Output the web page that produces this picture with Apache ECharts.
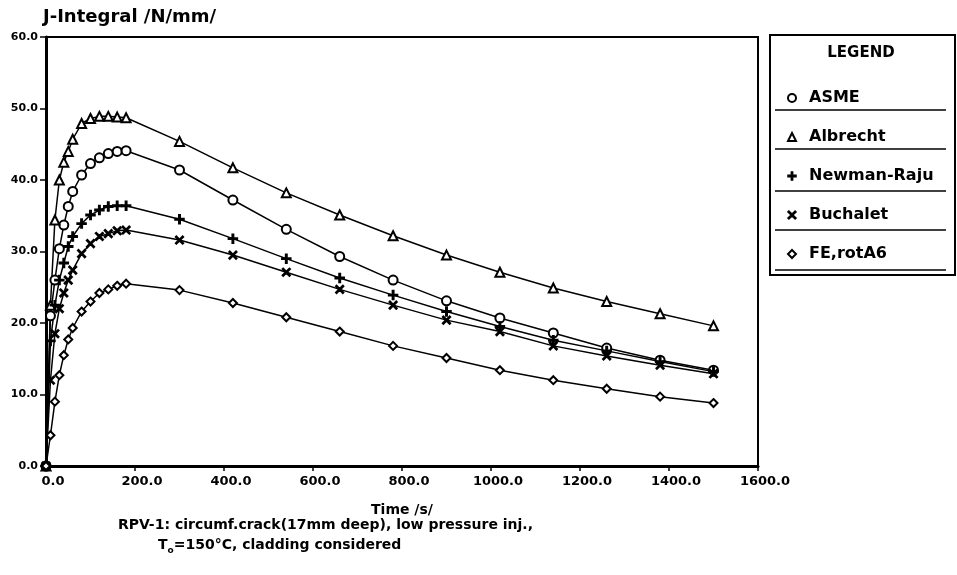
<!DOCTYPE html>
<html>
<head>
<meta charset="utf-8">
<title>J-Integral</title>
<script src="https://cdn.jsdelivr.net/npm/echarts@6/dist/echarts.min.js"></script>
<style>
  html, body { margin: 0; padding: 0; background: #fff; }
  #chart { width: 957px; height: 575px; }
</style>
</head>
<body>
<div id="chart"></div>
<script>
// time points /s/
const times = [0, 10, 20, 30, 40, 50, 60, 80, 100, 120, 140, 160, 180,
  300, 420, 540, 660, 780, 900, 1020, 1140, 1260, 1380, 1500];

// J-integral values /N/mm/
const asme = [0, 21.0, 26.0, 30.4, 33.7, 36.3, 38.4, 40.7, 42.3, 43.1, 43.7, 44.0, 44.1,
  41.4, 37.2, 33.1, 29.3, 26.0, 23.1, 20.7, 18.6, 16.5, 14.8, 13.4];
const albrecht = [0, 22.5, 34.4, 40.0, 42.5, 44.0, 45.7, 47.9, 48.6, 48.9, 48.9, 48.8, 48.7,
  45.4, 41.7, 38.2, 35.1, 32.2, 29.5, 27.1, 24.9, 23.0, 21.3, 19.6];
const newmanRaju = [0, 17.5, 22.5, 26.0, 28.4, 30.7, 32.1, 33.9, 35.1, 35.8, 36.3, 36.4, 36.4,
  34.5, 31.8, 29.0, 26.3, 23.9, 21.6, 19.5, 17.6, 16.1, 14.6, 13.2];
const buchalet = [0, 12.0, 18.5, 22.0, 24.2, 26.0, 27.4, 29.7, 31.1, 32.1, 32.5, 32.9, 33.0,
  31.6, 29.5, 27.1, 24.7, 22.5, 20.4, 18.8, 16.8, 15.4, 14.1, 12.9];
const feRotA6 = [0, 4.3, 9.0, 12.7, 15.5, 17.7, 19.3, 21.6, 23.0, 24.2, 24.7, 25.2, 25.5,
  24.6, 22.8, 20.8, 18.8, 16.8, 15.1, 13.4, 12.0, 10.8, 9.7, 8.8];

const xTicks = [0, 200, 400, 600, 800, 1000, 1200, 1400, 1600];
const yTicks = [0, 10, 20, 30, 40, 50, 60];

const FONT = 'DejaVu Sans';
const plusPath = 'path://M4.2,0h1.6v4.2h4.2v1.6h-4.2v4.2h-1.6v-4.2h-4.2v-1.6h4.2z';
const crossPath = 'path://M0,1.1L1.1,0L5,3.9L8.9,0L10,1.1L6.1,5L10,8.9L8.9,10L5,6.1L1.1,10L0,8.9L3.9,5Z';

const seriesDefs = [
  { name: 'ASME', data: asme, symbol: 'emptyCircle', size: 9 },
  { name: 'Albrecht', data: albrecht, symbol: 'emptyTriangle', size: 9 },
  { name: 'Newman-Raju', data: newmanRaju, symbol: plusPath, size: 9 },
  { name: 'Buchalet', data: buchalet, symbol: crossPath, size: 8 },
  { name: 'FE,rotA6', data: feRotA6, symbol: 'emptyDiamond', size: 8 }
];

function pairs(ys) {
  return times.map((t, i) => [t, ys[i]]);
}

const chart = echarts.init(document.getElementById('chart'));

const option = {
  animation: false,
  backgroundColor: '#fff',
  grid: {
    left: 46, top: 37, right: 199, bottom: 109,
    show: true, borderColor: '#000', borderWidth: 2
  },
  xAxis: {
    type: 'value',
    min: xTicks[0], max: xTicks[xTicks.length - 1], interval: 200,
    name: 'Time /s/',
    nameLocation: 'middle',
    nameGap: 37,
    nameTextStyle: { fontFamily: FONT, fontWeight: 'bold', fontSize: 14, color: '#000' },
    axisLine: { lineStyle: { color: '#000', width: 3 } },
    axisTick: { length: 5, lineStyle: { color: '#000', width: 1.5 } },
    axisLabel: {
      fontFamily: FONT, fontWeight: 'bold', fontSize: 13, color: '#000', margin: 9,
      padding: [0, 0, 0, 14],
      formatter: v => v.toFixed(1)
    },
    splitLine: { show: false }
  },
  yAxis: {
    type: 'value',
    min: yTicks[0], max: yTicks[yTicks.length - 1], interval: 10,
    axisLine: { show: true, lineStyle: { color: '#000', width: 3 } },
    axisTick: { show: true, length: 6, lineStyle: { color: '#000', width: 1.5 } },
    axisLabel: {
      fontFamily: FONT, fontWeight: 'bold', fontSize: 11, color: '#000', margin: 8,
      formatter: v => v.toFixed(1)
    },
    splitLine: { show: false }
  },
  legend: {
    orient: 'vertical',
    left: 782, top: 85,
    itemGap: 23,
    itemWidth: 8, itemHeight: 8,
    textStyle: { fontFamily: FONT, fontWeight: 'bold', fontSize: 16, color: '#000', padding: [0, 0, 0, 8] },
    selectedMode: false,
    data: seriesDefs.map(s => ({ name: s.name, icon: s.symbol,
      itemStyle: { color: '#000', borderColor: '#000', borderWidth: 1.5 } }))
  },
  series: seriesDefs.map(s => ({
    name: s.name,
    type: 'line',
    data: pairs(s.data),
    symbol: s.symbol,
    symbolSize: s.size,
    showAllSymbol: true,
    color: '#000',
    lineStyle: { color: '#000', width: 1.5 },
    itemStyle: { color: '#000', borderColor: '#000', borderWidth: 1.5 },
    z: 3
  })),
  graphic: [
    // title at top left
    { type: 'text', left: 43, top: 8,
      style: { text: 'J-Integral /N/mm/', fill: '#000', font: 'bold 18px "DejaVu Sans"' } },
    // legend box
    { type: 'rect', shape: { x: 770, y: 35, width: 185, height: 240 },
      style: { fill: 'none', stroke: '#000', lineWidth: 2 } },
    { type: 'text', x: 861, y: 53,
      style: { text: 'LEGEND', fill: '#000', font: 'bold 15px "DejaVu Sans"', align: 'center', verticalAlign: 'middle' } },
    ...[110, 149, 191, 230, 270].map(y => ({
      type: 'line', shape: { x1: 775, y1: y, x2: 946, y2: y },
      style: { stroke: '#000', lineWidth: 1.5 }
    })),
    // caption under the chart
    { type: 'text', left: 118, top: 518,
      style: { text: 'RPV-1: circumf.crack(17mm deep), low pressure inj.,', fill: '#000', font: 'bold 14px "DejaVu Sans"' } },
    { type: 'text', left: 158, top: 538,
      style: {
        text: '{a|T}{s|o}{a|=150°C, cladding considered}',
        rich: {
          a: { fontFamily: FONT, fontWeight: 'bold', fontSize: 14, lineHeight: 20, fill: '#000' },
          s: { fontFamily: FONT, fontWeight: 'bold', fontSize: 9, lineHeight: 6, verticalAlign: 'bottom', fill: '#000' }
        }
      } }
  ]
};

chart.setOption(option);
</script>
</body>
</html>
